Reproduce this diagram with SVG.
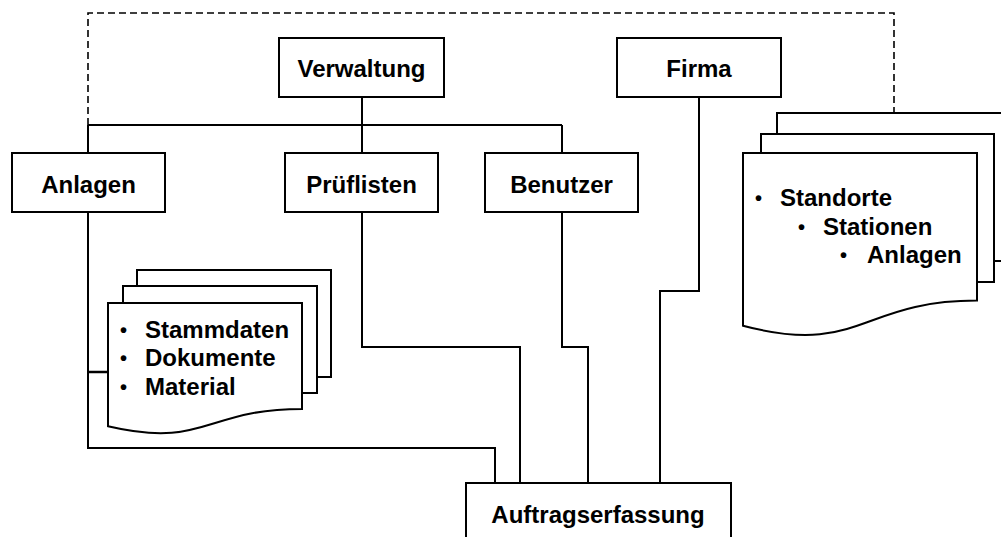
<svg xmlns="http://www.w3.org/2000/svg" width="1001" height="537" viewBox="0 0 1001 537">
<style>
.box{fill:#fff;stroke:#000;stroke-width:2}
.doc{fill:#fff;stroke:#000;stroke-width:2;stroke-linejoin:miter}
.lbl{font-family:"Liberation Sans",Arial,sans-serif;font-weight:bold;font-size:24px;fill:#000;text-anchor:middle}
.lst{font-family:"Liberation Sans",Arial,sans-serif;font-weight:bold;font-size:24px;fill:#000}
.bul{font-family:"Liberation Sans",Arial,sans-serif;font-weight:bold;font-size:20px;fill:#000}
.ln{fill:none;stroke:#000;stroke-width:2}
.dash{fill:none;stroke:#000;stroke-width:1.6;stroke-dasharray:7,4}
</style>
<rect width="1001" height="537" fill="#fff"/>
<g id="connectors">
<path class="dash" d="M88,125 V13 H894 V113"/>
<path class="ln" d="M88,125 H562"/>
<path class="ln" d="M362,97 V153"/>
<path class="ln" d="M88,125 V153"/>
<path class="ln" d="M562,125 V153"/>
<path class="ln" d="M88,212 V448 H495 V483"/>
<path class="ln" d="M88,372 H108" style="stroke-width:2.5"/>
<path class="ln" d="M362,212 V347 H520 V483"/>
<path class="ln" d="M562,212 V347 H588 V483"/>
<path class="ln" d="M699,97 V291 H660 V483"/>
</g>
<g id="verwaltung"><rect class="box" x="279" y="38" width="165" height="59"/><text class="lbl" x="361.5" y="77">Verwaltung</text></g>
<g id="firma"><rect class="box" x="617" y="38" width="164" height="59"/><text class="lbl" x="699" y="77">Firma</text></g>
<g id="anlagen"><rect class="box" x="12" y="153" width="153" height="59"/><text class="lbl" x="88.5" y="193">Anlagen</text></g>
<g id="pruflisten"><rect class="box" x="285" y="153" width="153" height="59"/><text class="lbl" x="361.5" y="193">Prüflisten</text></g>
<g id="benutzer"><rect class="box" x="485" y="153" width="153" height="59"/><text class="lbl" x="561.5" y="193">Benutzer</text></g>
<g id="auftragserfassung"><rect class="box" x="466" y="483" width="265" height="70"/><text class="lbl" x="598" y="523">Auftragserfassung</text></g>
<g id="doc-anlagen">
<rect class="doc" x="137" y="270" width="194" height="107"/>
<rect class="doc" x="123" y="286" width="194" height="107"/>
<path class="doc" d="M108,303 H302 V408.9 C205,408.9 205,449.1 108,426.3 Z"/>
<text class="bul" x="120" y="337">•</text><text class="lst" x="145" y="338">Stammdaten</text>
<text class="bul" x="120" y="365">•</text><text class="lst" x="145" y="366">Dokumente</text>
<text class="bul" x="120" y="394">•</text><text class="lst" x="145" y="395">Material</text>
</g>
<g id="doc-firma">
<rect class="doc" x="777" y="113" width="234" height="148"/>
<rect class="doc" x="761" y="134" width="233" height="148"/>
<path class="doc" d="M743,153 H977 V300.6 C860,300.6 860,356.7 743,325.7 Z"/>
<text class="bul" x="755" y="205">•</text><text class="lst" x="780" y="206">Standorte</text>
<text class="bul" x="798" y="234">•</text><text class="lst" x="823" y="235">Stationen</text>
<text class="bul" x="840" y="262">•</text><text class="lst" x="867" y="263">Anlagen</text>
</g>
</svg>
